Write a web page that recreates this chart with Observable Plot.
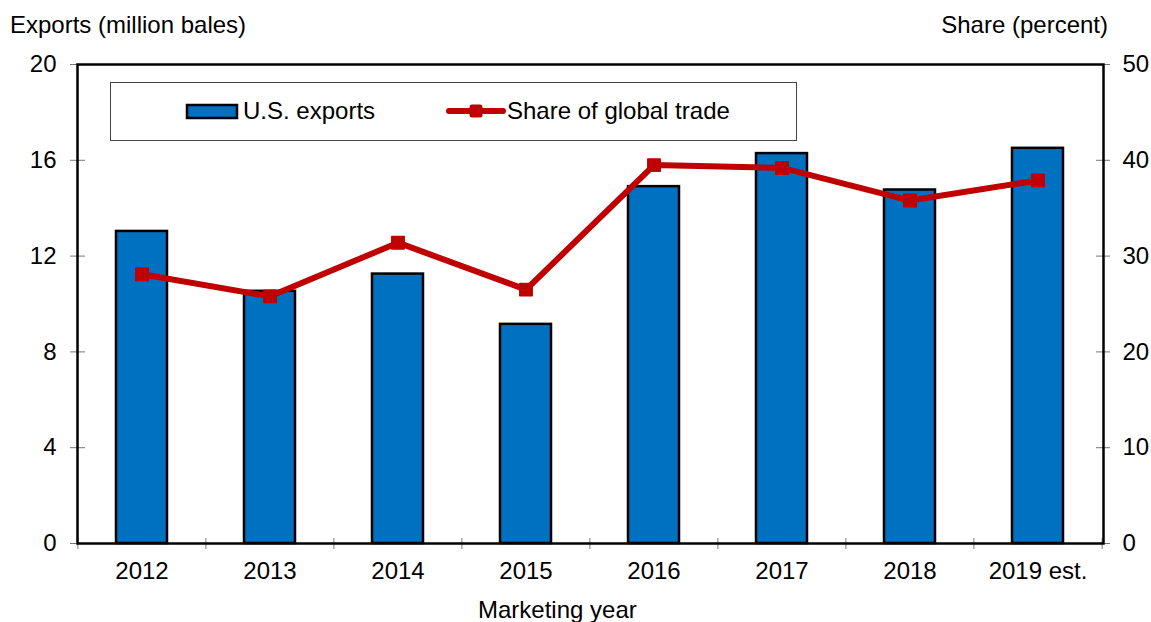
<!DOCTYPE html>
<html><head><meta charset="utf-8">
<script src="https://cdn.jsdelivr.net/npm/d3@7"></script>
<script src="https://cdn.jsdelivr.net/npm/@observablehq/plot@0.6"></script>
<style>
body{margin:0;background:#fff;font-family:"Liberation Sans",Arial,sans-serif;}
#wrap{position:relative;width:1151px;height:622px;overflow:hidden;}
.lbl{position:absolute;font-size:24px;line-height:28px;color:#000;white-space:nowrap;}
#chart{position:absolute;left:0;top:0;}
#legend{position:absolute;left:0;top:0;}
</style></head><body>
<div id="wrap">
<div id="chart"></div>
<div class="lbl" style="left:10px;top:11px">Exports (million bales)</div>
<div class="lbl" style="right:43px;top:11px">Share (percent)</div>
<div class="lbl" style="left:478px;top:596px">Marketing year</div>
<svg id="legend" width="1151" height="622" style="pointer-events:none">
  <rect x="110.5" y="82.5" width="686" height="58" fill="#fff" stroke="#444" stroke-width="1"/>
  <rect x="187" y="105" width="50" height="13" fill="#0070C0" stroke="#000" stroke-width="2.5"/>
  <text x="243" y="119" font-size="24" font-family="Liberation Sans, Arial, sans-serif">U.S. exports</text>
  <line x1="449" y1="111" x2="503" y2="111" stroke="#C00000" stroke-width="6" stroke-linecap="round"/>
  <rect x="469.5" y="104.5" width="13" height="13" rx="2.5" fill="#C00000"/>
  <text x="507" y="119" font-size="24" font-family="Liberation Sans, Arial, sans-serif">Share of global trade</text>
</svg>
</div>
<script>
const years = ["2012","2013","2014","2015","2016","2017","2018","2019 est."];
const exportsMil = [13.03, 10.53, 11.25, 9.15, 14.9, 16.28, 14.76, 16.5];
const sharePct = [28.1, 25.8, 31.4, 26.5, 39.5, 39.2, 35.8, 37.9];
const leftTicks = [0, 4, 8, 12, 16, 20];
const rightTickLabels = [0, 10, 20, 30, 40, 50];

const data = years.map((y, i) => ({year: y, exports: exportsMil[i], share: sharePct[i]}));
const ratio = 20 / 50;
const W = 1151, H = 622, mL = 77, mR = 48, mT = 64, mB = 79;
const half = (W - mL - mR) / years.length / 2;

const chart = Plot.plot({
  width: W, height: H,
  marginTop: mT, marginBottom: mB, marginLeft: mL, marginRight: mR,
  style: {fontFamily: "Liberation Sans, Arial, sans-serif", fontSize: "24px", color: "#000", background: "#fff"},
  x: {domain: years, paddingInner: 0.6, paddingOuter: 0.3, label: null},
  y: {domain: [0, 20], label: null},
  marks: [
    Plot.barY(data, {x: "year", y: "exports", fill: "#0070C0", stroke: "#000", strokeWidth: 2.5}),
    // left axis
    Plot.axisY({anchor: "left", ticks: leftTicks, tickSize: 15, dx: 8, text: null, stroke: "#777", label: null}),
    Plot.axisY({anchor: "left", ticks: leftTicks, tickSize: 0, tickPadding: 21, fontSize: 24, label: null}),
    // right axis
    Plot.axisY({anchor: "right", ticks: leftTicks, tickSize: 14, dx: -8, text: null, stroke: "#777", label: null}),
    Plot.axisY({anchor: "right", ticks: leftTicks, tickSize: 0, tickPadding: 19, fontSize: 24, textAnchor: "start",
      tickFormat: (d) => String(rightTickLabels[leftTicks.indexOf(d)]), label: null}),
    // x axis
    Plot.axisX({tickSize: 11, dy: -5, dx: -half, text: null, stroke: "#777", label: null}),
    Plot.axisX([years[years.length - 1]], {tickSize: 11, dy: -5, dx: half, text: null, stroke: "#777", label: null}),
    Plot.axisX({tickSize: 0, tickPadding: 18, fontSize: 24, label: null}),
    Plot.frame({stroke: "#000", strokeWidth: 2.5}),
    Plot.line(data, {x: "year", y: (d) => d.share * ratio, stroke: "#C00000", strokeWidth: 6}),
    Plot.dot(data, {x: "year", y: (d) => d.share * ratio, symbol: "square", r: 7, fill: "#C00000", stroke: "#C00000", strokeWidth: 1.5, strokeLinejoin: "round"})
  ]
});
document.getElementById("chart").appendChild(chart);
</script>
</body></html>
